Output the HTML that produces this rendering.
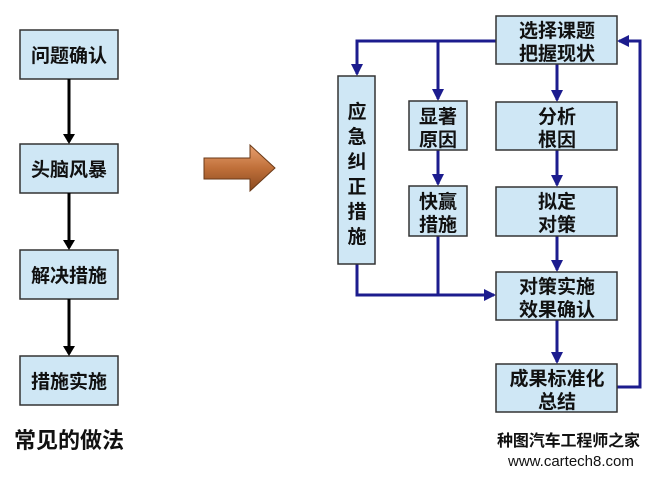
<!DOCTYPE html>
<html><head><meta charset="utf-8"><style>
body{margin:0;background:#fff;}
svg text{font-family:"Liberation Sans","Noto Sans CJK SC",sans-serif;font-weight:bold;fill:#111;}
</style></head><body>
<svg width="652" height="474" viewBox="0 0 652 474" xmlns="http://www.w3.org/2000/svg">
<defs>
<marker id="ab" markerWidth="10" markerHeight="12" refX="8" refY="6" orient="auto" markerUnits="userSpaceOnUse"><path d="M0,0 L10,6 L0,12 z" fill="#000"/></marker>
<marker id="au" markerWidth="12" markerHeight="12" refX="10" refY="6" orient="auto" markerUnits="userSpaceOnUse"><path d="M0,0 L12,6 L0,12 z" fill="#1c1c8e"/></marker>
<linearGradient id="og" x1="0" y1="0" x2="0" y2="1"><stop offset="0" stop-color="#e8a070"/><stop offset="0.5" stop-color="#c0703a"/><stop offset="1" stop-color="#8a4a20"/></linearGradient>
</defs>
<g fill="#cfe7f5" stroke="#333" stroke-width="1.5">
<rect x="20" y="30" width="98" height="49"/>
<rect x="20" y="144" width="98" height="49"/>
<rect x="20" y="250" width="98" height="49"/>
<rect x="20" y="356" width="98" height="49"/>
</g>
<g stroke="#000" stroke-width="3">
<line x1="69" y1="79" x2="69" y2="142" marker-end="url(#ab)"/>
<line x1="69" y1="193" x2="69" y2="248" marker-end="url(#ab)"/>
<line x1="69" y1="299" x2="69" y2="354" marker-end="url(#ab)"/>
</g>
<g font-size="19" text-anchor="middle">
<text x="69" y="62">问题确认</text>
<text x="69" y="176">头脑风暴</text>
<text x="69" y="282">解决措施</text>
<text x="69" y="388">措施实施</text>
</g>
<text x="69" y="448" font-size="22" text-anchor="middle">常见的做法</text>
<path d="M204,158 L250,158 L250,145 L275,168 L250,191 L250,179 L204,179 z" fill="url(#og)" stroke="#6a3a18" stroke-width="1"/>
<g stroke="#1c1c8e" stroke-width="3" fill="none">
<polyline points="496,41 357,41 357,74" marker-end="url(#au)"/>
<line x1="438" y1="41" x2="438" y2="99" marker-end="url(#au)"/>
<line x1="557" y1="64" x2="557" y2="100" marker-end="url(#au)"/>
<line x1="438" y1="150" x2="438" y2="184" marker-end="url(#au)"/>
<line x1="557" y1="150" x2="557" y2="185" marker-end="url(#au)"/>
<line x1="557" y1="236" x2="557" y2="270" marker-end="url(#au)"/>
<line x1="557" y1="320" x2="557" y2="362" marker-end="url(#au)"/>
<polyline points="357,264 357,295 494,295" marker-end="url(#au)"/>
<line x1="438" y1="236" x2="438" y2="295"/>
<polyline points="617,387 640,387 640,41 619,41" marker-end="url(#au)"/>
</g>
<g fill="#cfe7f5" stroke="#333" stroke-width="1.5">
<rect x="496" y="16" width="121" height="48"/>
<rect x="338" y="76" width="37" height="188"/>
<rect x="409" y="101" width="58" height="49"/>
<rect x="496" y="102" width="121" height="48"/>
<rect x="409" y="186" width="58" height="50"/>
<rect x="496" y="187" width="121" height="49"/>
<rect x="496" y="272" width="121" height="48"/>
<rect x="496" y="364" width="121" height="48"/>
</g>
<g font-size="19" text-anchor="middle">
<text x="557" y="37">选择课题</text><text x="557" y="60">把握现状</text>
<text x="557" y="123">分析</text><text x="557" y="146">根因</text>
<text x="557" y="208">拟定</text><text x="557" y="231">对策</text>
<text x="557" y="293">对策实施</text><text x="557" y="316">效果确认</text>
<text x="557" y="385">成果标准化</text><text x="557" y="408">总结</text>
<text x="438" y="123">显著</text><text x="438" y="146">原因</text>
<text x="438" y="208">快赢</text><text x="438" y="231">措施</text>
<text x="357" y="118">应</text><text x="357" y="143">急</text><text x="357" y="168">纠</text><text x="357" y="193">正</text><text x="357" y="218">措</text><text x="357" y="243">施</text>
</g>
<text x="497" y="446" font-size="16" fill="#333" textLength="143">种图汽车工程师之家</text>
<text x="508" y="466" font-size="15" style="font-weight:normal" fill="#666">www.cartech8.com</text>
</svg>
</body></html>
